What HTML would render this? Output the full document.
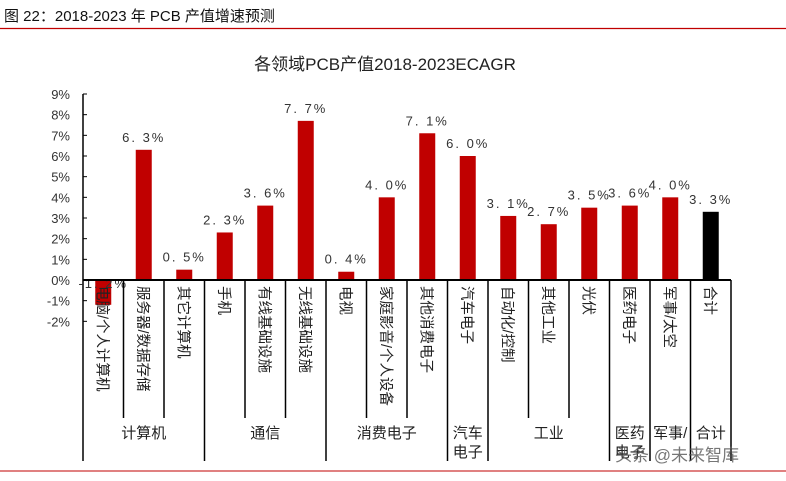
<!DOCTYPE html>
<html><head><meta charset="utf-8"><style>
body{margin:0;background:#fff;width:786px;height:476px;overflow:hidden;font-family:"Liberation Sans","Noto Sans CJK SC",sans-serif}
</style></head><body>
<svg id="chart" width="786" height="476" xmlns="http://www.w3.org/2000/svg" font-family="Liberation Sans, Noto Sans CJK SC, sans-serif">
<text x="4" y="21" font-size="15" fill="#111">图 22：2018-2023 年 PCB 产值增速预测</text>
<line x1="0" y1="28.5" x2="786" y2="28.5" stroke="#c00000" stroke-width="1.2"/>
<text x="385" y="70" font-size="17" text-anchor="middle" fill="#222">各领域PCB产值2018-2023ECAGR</text>
<line x1="0" y1="471" x2="786" y2="471" stroke="#c00000" stroke-width="1"/>
<g id="plot"></g>
</svg>
<script>
const categories=["电脑/个人计算机","服务器/数据存储","其它计算机","手机","有线基础设施","无线基础设施","电视","家庭影音/个人设备","其他消费电子","汽车电子","自动化/控制","其他工业","光伏","医药电子","军事/太空","合计"];
const values=[-1.2,6.3,0.5,2.3,3.6,7.7,0.4,4.0,7.1,6.0,3.1,2.7,3.5,3.6,4.0,3.3];
const valueLabels=["-1.2%","6.3%","0.5%","2.3%","3.6%","7.7%","0.4%","4.0%","7.1%","6.0%","3.1%","2.7%","3.5%","3.6%","4.0%","3.3%"];
const groups=["计算机","通信","消费电子","汽车\n电子","工业","医药\n电子","军事/","合计"];
const groupSizes=[3,3,3,1,3,1,1,1];
const yTicks=[-2,-1,0,1,2,3,4,5,6,7,8,9];

const NS="http://www.w3.org/2000/svg";
const g=document.getElementById('plot');
const x0=83,x1=731,y9=94,yZero=280;
const per=(yZero-y9)/9;
const y=v=>yZero-v*per;
const slot=(x1-x0)/categories.length;
function mk(t,a){const e=document.createElementNS(NS,t);for(const k in a)e.setAttribute(k,a[k]);g.appendChild(e);return e;}

let ax=mk('line',{x1:x0,y1:y(9),x2:x0,y2:461,stroke:'#000','stroke-width':1.5});


yTicks.forEach(t=>{
 let l=mk('line',{x1:x0,y1:y(t),x2:x0+4,y2:y(t),stroke:'#000'});
 
 
 let tx=mk('text',{x:x0-13,y:y(t)+5,'font-size':13,'text-anchor':'end',fill:'#333'});
 tx.textContent=t+'%';
 
 
});
values.forEach((v,i)=>{
 const cx=x0+slot*(i+0.5);
 let r=mk('rect',{x:cx-8,y:Math.min(y(v),yZero),width:16,height:Math.abs(y(v)-yZero),fill:i==values.length-1?'#000':'#c00000'});
 
 
 let t=mk('text',{x:cx,y:(v>=0?y(v):yZero+16)-8,'font-size':13,'text-anchor':'middle',fill:'#333','letter-spacing':'2'});
 t.textContent=valueLabels[i].replace('.', '. ');
 
 
 let c=mk('text',{x:0,y:0,'font-size':14.5,fill:'#222',transform:`translate(${cx-6},${yZero+6}) rotate(90)`});
 c.textContent=categories[i];
 
 
});
let xa=mk('line',{x1:x0,y1:yZero,x2:x1,y2:yZero,stroke:'#000','stroke-width':2});


let idx=0;
const bounds=new Set();
groupSizes.forEach(s=>{idx+=s;bounds.add(idx);});
for(let i=1;i<=categories.length;i++){
 const xx=x0+slot*i;
 let l=mk('line',{x1:xx,y1:yZero,x2:xx,y2:bounds.has(i)?461:418,stroke:'#000','stroke-width':1.5});
 
 
}
idx=0;
groups.forEach((gname,k)=>{
 const cx=x0+slot*(idx+groupSizes[k]/2);
 idx+=groupSizes[k];
 gname.split('\n').forEach((line,j)=>{
  let t=mk('text',{x:cx,y:438+j*19,'font-size':15,'text-anchor':'middle',fill:'#222'});
  t.textContent=line;
  
  
 });
});
let w=mk('text',{x:615,y:461,'font-size':17,fill:'#555',opacity:0.8});
w.textContent='头条 @未来智库';


</script>
</body></html>
